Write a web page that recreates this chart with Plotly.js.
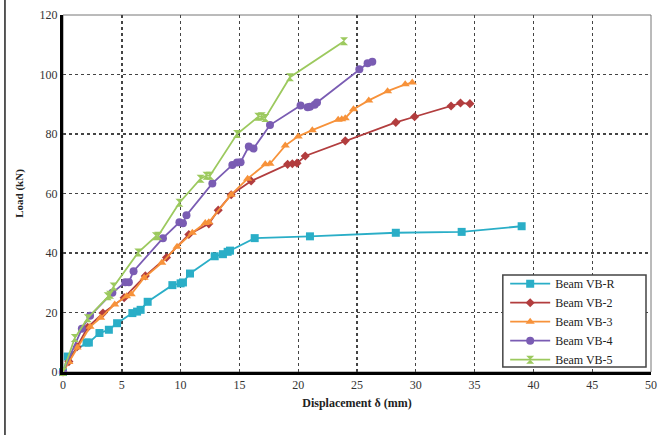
<!DOCTYPE html>
<html>
<head>
<meta charset="utf-8">
<script src="https://cdn.plot.ly/plotly-3.0.1.min.js"></script>
<style>
  html, body { margin: 0; padding: 0; background: #ffffff; }
  #chart { width: 661px; height: 435px; }
</style>
</head>
<body>
<div id="chart"></div>
<script>
// ---- Data ----
const seriesNames = ["Beam VB-R", "Beam VB-2", "Beam VB-3", "Beam VB-4", "Beam VB-5"];

const vbR_x = [0, 0.4, 2.0, 2.2, 3.1, 3.9, 4.6, 5.9, 6.3, 6.6, 7.2, 9.3, 10.0, 10.2, 10.8, 12.9, 13.6, 14.0, 14.2, 16.3, 21.0, 28.3, 33.9, 39.0];
const vbR_y = [0, 5.2, 9.9, 9.9, 13.1, 14.2, 16.4, 19.8, 20.3, 20.9, 23.6, 29.2, 29.8, 30.1, 33.1, 38.9, 39.6, 40.4, 40.8, 45.0, 45.6, 46.8, 47.1, 49.0];

const vb2_x = [0, 0.5, 1.2, 2.1, 3.4, 5.2, 7.0, 8.8, 10.7, 12.4, 13.2, 14.3, 16.0, 19.1, 19.5, 19.9, 20.6, 24.0, 28.3, 29.9, 33.0, 33.8, 34.6];
const vb2_y = [0, 3.5, 8.5, 15.0, 19.8, 25.0, 32.3, 38.5, 46.2, 49.8, 54.4, 59.6, 64.2, 69.8, 70.0, 70.2, 72.6, 77.7, 83.9, 85.8, 89.4, 90.4, 90.2];

const vb3_x = [0, 0.5, 1.2, 2.3, 3.2, 4.4, 5.4, 5.8, 6.9, 8.4, 9.7, 11.0, 12.1, 12.4, 14.3, 15.7, 17.2, 17.6, 18.9, 20.0, 21.2, 23.4, 23.7, 24.0, 24.7, 26.0, 27.6, 29.1, 29.7];
const vb3_y = [0, 3.4, 8.2, 15.2, 18.2, 22.7, 25.5, 26.1, 31.7, 36.7, 42.1, 46.8, 50.1, 50.3, 59.6, 65.0, 69.8, 70.0, 76.1, 79.2, 81.3, 84.8, 85.0, 85.3, 88.3, 91.3, 94.4, 96.7, 97.3];

const vb4_x = [0, 1.6, 2.3, 4.2, 5.3, 5.6, 6.0, 8.5, 9.9, 10.2, 10.5, 12.7, 14.4, 14.8, 15.1, 15.8, 16.2, 17.6, 20.2, 20.8, 21.0, 21.4, 21.6, 25.2, 25.9, 26.3];
const vb4_y = [0, 14.5, 18.9, 26.6, 30.2, 30.2, 33.9, 45.0, 50.3, 50.0, 52.7, 63.4, 69.6, 70.4, 70.5, 75.8, 75.1, 83.0, 89.6, 89.0, 89.2, 89.8, 90.6, 101.8, 103.8, 104.3];

const vb5_x = [0, 1.0, 2.1, 3.8, 4.0, 4.3, 6.4, 7.9, 8.1, 9.9, 11.7, 12.2, 12.5, 14.8, 16.6, 16.9, 17.2, 19.3, 23.9];
const vb5_y = [0, 11.4, 18.1, 25.5, 26.0, 28.7, 40.2, 45.6, 45.8, 56.9, 65.0, 66.0, 66.0, 80.0, 85.8, 86.0, 85.4, 99.1, 111.2];

const xTicks = [0, 5, 10, 15, 20, 25, 30, 35, 40, 45, 50];
const yTicks = [0, 20, 40, 60, 80, 100, 120];

// ---- Styles ----
const colors = ["#2aaec7", "#b23d3e", "#f7923a", "#7a5cb3", "#9cc95e"];
const symbols = ["square", "diamond", "triangle-up", "circle", "hourglass"];
const sizes = [8, 7, 8, 8, 8];
const xs = [vbR_x, vb2_x, vb3_x, vb4_x, vb5_x];
const ys = [vbR_y, vb2_y, vb3_y, vb4_y, vb5_y];

const serif = "Liberation Serif, Times New Roman, serif";

const traces = seriesNames.map((name, i) => ({
  type: "scatter",
  mode: "lines+markers",
  name: name,
  x: xs[i],
  y: ys[i],
  line: { color: colors[i], width: 1.8 },
  marker: { symbol: symbols[i], size: sizes[i], color: colors[i] },
  cliponaxis: false
}));

const layout = {
  width: 661,
  height: 435,
  margin: { l: 63, r: 10, t: 15, b: 63 },
  paper_bgcolor: "#ffffff",
  plot_bgcolor: "#ffffff",
  showlegend: true,
  legend: {
    x: 0.752, xanchor: "left",
    y: 0.288, yanchor: "top",
    bgcolor: "rgba(0,0,0,0)",
    borderwidth: 0,
    font: { family: serif, size: 12, color: "#222222" },
    tracegroupgap: 0,
    itemwidth: 40
  },
  xaxis: {
    range: [0, 50],
    tickvals: xTicks,
    ticktext: xTicks.map(String),
    showgrid: true,
    gridcolor: "#444444",
    gridwidth: 1.4,
    griddash: "dot",
    zeroline: false,
    showline: true,
    linecolor: "#000000",
    linewidth: 3,
    ticks: "",
    tickfont: { family: serif, size: 12, color: "#333333" },
    title: { text: "<b>Displacement δ (mm)</b>", font: { family: serif, size: 12, color: "#222222" }, standoff: 8 }
  },
  yaxis: {
    range: [0, 120],
    tickvals: yTicks,
    ticktext: yTicks.map(String),
    showgrid: true,
    gridcolor: "#444444",
    gridwidth: 1.4,
    griddash: "dot",
    zeroline: false,
    showline: true,
    linecolor: "#000000",
    linewidth: 3,
    ticks: "",
    tickfont: { family: serif, size: 12, color: "#333333" },
    title: { text: "<b>Load (kN)</b>", font: { family: serif, size: 11, color: "#222222" }, standoff: 14 }
  },
  shapes: [
    { type: "rect", xref: "paper", yref: "paper", x0: 0, x1: 1, y0: 0, y1: 1,
      line: { color: "#777777", width: 1 }, layer: "below" },
    { type: "line", xref: "paper", yref: "paper", x0: -0.0987, x1: -0.0987, y0: -0.18, y1: 1.05,
      line: { color: "#222222", width: 1.5 } },
    // legend frame
    { type: "rect", xref: "paper", yref: "paper", x0: 0.748, x1: 0.9915, y0: 0.014, y1: 0.272,
      fillcolor: "#ffffff", line: { color: "#444444", width: 1.5 }, layer: "above" }
  ]
};

Plotly.newPlot("chart", traces, layout, { staticPlot: true, displayModeBar: false });
</script>
</body>
</html>
